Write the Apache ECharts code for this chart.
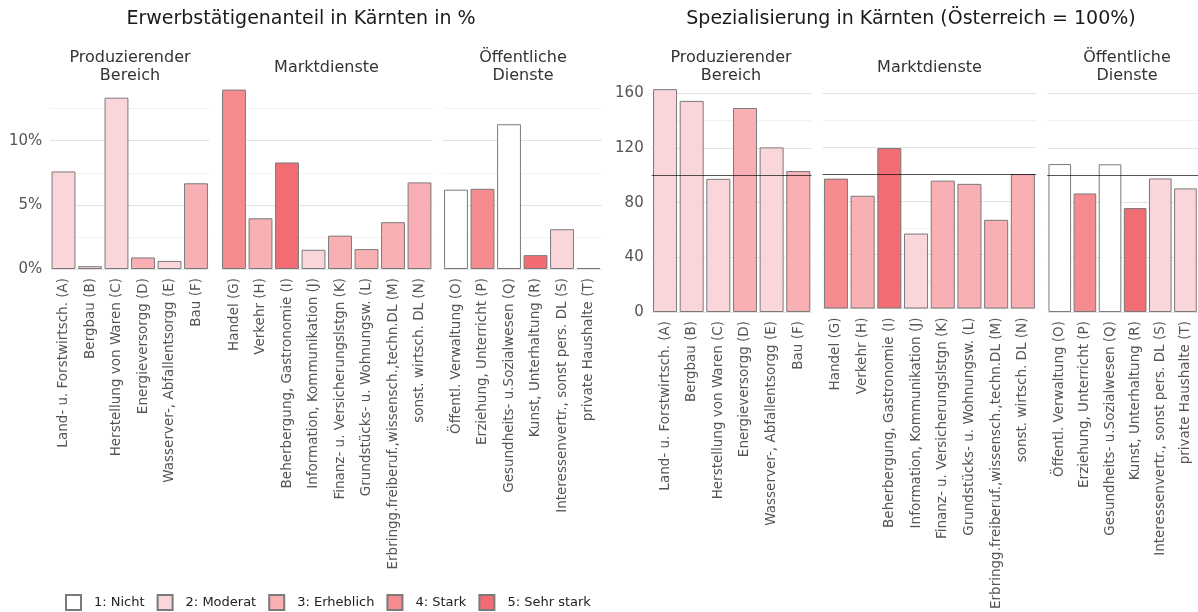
<!DOCTYPE html>
<html>
<head>
<meta charset="utf-8">
<script src="https://cdn.jsdelivr.net/npm/echarts@6/dist/echarts.min.js"></script>
<style>
  html, body { margin: 0; padding: 0; background: #fff; }
  #chart { width: 1198px; height: 612px; }
</style>
</head>
<body>
<div id="chart"></div>
<script>
// Branchengruppen (Facetten)
var gruppen = ['Produzierender\nBereich', 'Marktdienste', 'Öffentliche\nDienste']

// Branchen je Gruppe
var branchenProd = ['Land- u. Forstwirtsch. (A)', 'Bergbau (B)', 'Herstellung von Waren (C)',
  'Energieversorgg (D)', 'Wasserver-, Abfallentsorgg (E)', 'Bau (F)']
var branchenMarkt = ['Handel (G)', 'Verkehr (H)', 'Beherbergung, Gastronomie (I)',
  'Information, Kommunikation (J)', 'Finanz- u. Versicherungslstgn (K)',
  'Grundstücks- u. Wohnungsw. (L)', 'Erbringg.freiberuf.,wissensch.,techn.DL (M)', 'sonst. wirtsch. DL (N)']
var branchenOeff = ['Öffentl. Verwaltung (O)', 'Erziehung, Unterricht (P)', 'Gesundheits- u.Sozialwesen (Q)',
  'Kunst, Unterhaltung (R)', 'Interessenvertr., sonst pers. DL (S)', 'private Haushalte (T)']

// Erwerbstätigenanteil in %
var anteilProd = [7.6, 0.22, 13.35, 0.9, 0.63, 6.68]
var anteilMarkt = [13.98, 3.95, 8.3, 1.5, 2.6, 1.55, 3.65, 6.75]
var anteilOeff = [6.18, 6.25, 11.28, 1.08, 3.1, 0.08]

// Spezialisierung (Österreich = 100)
var spezProd = [163, 154.4, 97.4, 149.2, 120.4, 103.1]
var spezMarkt = [96.5, 83.8, 119.2, 55.7, 95, 92.6, 65.9, 99.9]
var spezOeff = [108.2, 86.7, 108, 76, 97.7, 90.4]

// Spezialisierungsstufe 1-5
var stufeProd = [2, 2, 2, 3, 2, 3]
var stufeMarkt = [4, 3, 5, 2, 3, 3, 3, 3]
var stufeOeff = [1, 4, 1, 5, 2, 2]

var stufen = ['1: Nicht', '2: Moderat', '3: Erheblich', '4: Stark', '5: Sehr stark']
var stufenFarben = ['#ffffff', '#fad5d9', '#f8b0b4', '#f58b8f', '#f16d73']

var yTicksAnteil = [0, 5, 10]
var yTicksSpez = [0, 40, 80, 120, 160]

var font = '"DejaVu Sans", sans-serif'

var panels = [
  // linkes Diagramm
  { left: 50.25, step: 26.5, top: 86, height: 183, max: 14.26, interval: 2.5, ticks: yTicksAnteil, unit: '%',
    names: branchenProd, values: anteilProd, stufe: stufeProd, axis: true, ref: false },
  { left: 220.75, step: 26.5, top: 86, height: 183, max: 14.26, interval: 2.5, ticks: yTicksAnteil, unit: '%',
    names: branchenMarkt, values: anteilMarkt, stufe: stufeMarkt, axis: false, ref: false },
  { left: 442.75, step: 26.5, top: 86, height: 183, max: 14.26, interval: 2.5, ticks: yTicksAnteil, unit: '%',
    names: branchenOeff, values: anteilOeff, stufe: stufeOeff, axis: false, ref: false },
  // rechtes Diagramm
  { left: 651.7, step: 26.65, top: 86, height: 226, max: 165.3, interval: 20, ticks: yTicksSpez, unit: '',
    names: branchenProd, values: spezProd, stufe: stufeProd, axis: true, ref: true },
  { left: 822.6, step: 26.7, top: 86, height: 226, max: 165.3, interval: 20, ticks: yTicksSpez, unit: '',
    names: branchenMarkt, values: spezMarkt, stufe: stufeMarkt, axis: false, ref: true },
  { left: 1047.2, step: 26.65, top: 86, height: 226, max: 165.3, interval: 20, ticks: yTicksSpez, unit: '',
    names: branchenOeff, values: spezOeff, stufe: stufeOeff, axis: false, ref: true }
]

var grid = []
var xAxis = []
var yAxis = []
var series = []

panels.forEach(function (p, g) {
  grid.push({ left: p.left, top: p.top, width: p.step * p.names.length, height: p.height })
  xAxis.push({
    type: 'category',
    gridIndex: g,
    data: p.names,
    axisLine: { show: false },
    axisTick: { show: false },
    axisLabel: { rotate: 90, interval: 0, margin: 9, color: '#555', fontSize: 13.5, fontFamily: font }
  })
  yAxis.push({
    type: 'value',
    gridIndex: g,
    min: 0,
    max: p.max,
    interval: p.interval,
    axisLine: { show: false },
    axisTick: { show: false },
    axisLabel: {
      show: p.axis,
      margin: 8,
      color: '#555',
      fontSize: 15,
      fontFamily: font,
      formatter: function (v) {
        return p.ticks.indexOf(v) >= 0 ? v + p.unit : ''
      }
    },
    splitLine: {
      show: true,
      showMaxLine: false,
      lineStyle: { color: ['#e2e2e2', '#f2f2f2'], width: 1 }
    }
  })
  // eine Serie pro Stufe, alle an derselben Position (barGap -100%)
  stufen.forEach(function (name, k) {
    var s = {
      type: 'bar',
      name: name,
      xAxisIndex: g,
      yAxisIndex: g,
      barWidth: '90%',
      barGap: '-100%',
      itemStyle: { color: stufenFarben[k], borderColor: '#7a7a7a', borderWidth: 1 },
      data: p.values.map(function (v, i) { return p.stufe[i] === k + 1 ? v : '-' })
    }
    if (p.ref && p.stufe[0] === k + 1) {
      s.markLine = {
        silent: true,
        symbol: 'none',
        label: { show: false },
        lineStyle: { color: 'rgba(0,0,0,0.65)', type: 'solid', width: 1.2 },
        data: [{ yAxis: 100 }]
      }
    }
    series.push(s)
  })
})

var centersLeft = [130, 326.5, 523]
var centersRight = [731, 929.5, 1127]
var titles = [
  { text: 'Erwerbstätigenanteil in Kärnten in %', left: 301, top: 10, fontSize: 19 },
  { text: 'Spezialisierung in Kärnten (Österreich = 100%)', left: 911, top: 10, fontSize: 19 }
]
gruppen.forEach(function (t, i) {
  var top = t.indexOf('\n') >= 0 ? 49 : 59
  titles.push({ text: t, left: centersLeft[i], top: top, fontSize: 16, color: '#333' })
  titles.push({ text: t, left: centersRight[i], top: top, fontSize: 16, color: '#333' })
})

var option = {
  animation: false,
  title: titles.map(function (t) {
    return {
      text: t.text,
      left: t.left,
      top: t.top,
      padding: 0,
      textAlign: 'center',
      textStyle: {
        fontSize: t.fontSize,
        fontWeight: 'normal',
        color: t.color || '#1a1a1a',
        fontFamily: font,
        lineHeight: 18
      }
    }
  }),
  legend: {
    data: stufen,
    left: 65,
    top: 594,
    padding: 0,
    itemWidth: 15,
    itemHeight: 15,
    itemGap: 12,
    icon: 'rect',
    textStyle: { fontSize: 13, color: '#222', fontFamily: font, padding: [0, 0, 0, 8] }
  },
  grid: grid,
  xAxis: xAxis,
  yAxis: yAxis,
  series: series
}

var myChart = echarts.init(document.getElementById('chart'))
myChart.setOption(option)
</script>
</body>
</html>
